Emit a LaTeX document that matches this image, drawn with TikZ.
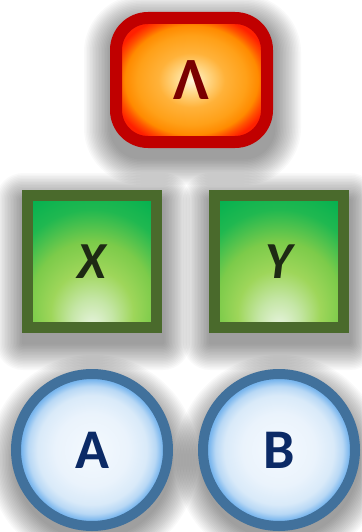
\documentclass[tikz,border=0pt]{standalone}
\usepackage{fontspec}
\setmainfont{Carlito}
\usetikzlibrary{positioning, backgrounds}
\definecolor{lamred}{HTML}{C00000}
\definecolor{lamink}{HTML}{7A0000}
\definecolor{leafolive}{HTML}{4A6A2C}
\definecolor{leafink}{HTML}{1E2A14}
\definecolor{dropsteel}{HTML}{41719C}
\definecolor{dropink}{HTML}{0B2A66}
% glow colours
\definecolor{lamA}{HTML}{FFF6DC}\definecolor{lamB}{HTML}{FFD98A}
\definecolor{lamC}{HTML}{FFB23A}\definecolor{lamD}{HTML}{FFA018}
\definecolor{lamE}{HTML}{FF8A00}\definecolor{lamF}{HTML}{FF5000}
\definecolor{lamG}{HTML}{FF2000}
\definecolor{leafA}{HTML}{E8F4E0}\definecolor{leafB}{HTML}{C5E6A6}
\definecolor{leafC}{HTML}{9ED65A}\definecolor{leafD}{HTML}{7CCB4A}
\definecolor{leafE}{HTML}{20B850}\definecolor{leafF}{HTML}{00B050}
\definecolor{leafG}{HTML}{1FA345}\definecolor{leafH}{HTML}{5A9A3C}
\definecolor{dropA}{HTML}{F4F9FE}\definecolor{dropB}{HTML}{EAF3FC}
\definecolor{dropC}{HTML}{D9EAF9}\definecolor{dropD}{HTML}{B8D8F5}
\definecolor{dropE}{HTML}{7DB8EE}\definecolor{dropF}{HTML}{5AA5EA}
\pgfdeclareradialshading{lamglow}{\pgfpoint{0bp}{0bp}}{%
  color(0bp)=(lamA); color(5bp)=(lamB); color(11bp)=(lamC);
  color(18bp)=(lamD); color(22bp)=(lamE); color(24.5bp)=(lamF);
  color(27bp)=(lamG); color(40bp)=(lamG)}
\pgfdeclareradialshading{leafglow}{\pgfpoint{0bp}{-25bp}}{%
  color(0bp)=(leafA); color(8bp)=(leafB); color(16bp)=(leafC);
  color(24bp)=(leafD); color(33bp)=(leafE); color(42bp)=(leafF);
  color(50bp)=(leafG); color(58bp)=(leafH); color(70bp)=(leafH)}
\pgfdeclareradialshading{dropglow}{\pgfpoint{0bp}{0bp}}{%
  color(0bp)=(dropA); color(12bp)=(dropB); color(18bp)=(dropC);
  color(21bp)=(dropD); color(23bp)=(dropE); color(25bp)=(dropF); color(40bp)=(dropF)}
\tikzset{
  haze/.style={fill=black, fill opacity=0.024},
  lambox/.style={
    draw=lamred, line width=12pt, rounded corners=32pt,
    minimum width=151pt, minimum height=124pt,
    shading=lamglow,
    font=\fontsize{60}{60}\selectfont\bfseries\color{lamink}
  },
  leafbox/.style={
    draw=leafolive, line width=11pt,
    minimum width=129pt, minimum height=132pt,
    shading=leafglow,
    font=\fontsize{52}{52}\selectfont\bfseries\itshape\color{leafink}
  },
  dropnode/.style={
    circle, draw=dropsteel, line width=10pt,
    minimum size=152pt, inner sep=0pt,
    shading=dropglow,
    font=\fontsize{56}{56}\selectfont\bfseries\color{dropink}
  }
}
\begin{document}
\begin{tikzpicture}[x=1pt, y=-1pt]
  \useasboundingbox (0,0) rectangle (361,532);

  % top
  \node[lambox] (lam) at (191.5,80) {Λ};

  % middle row
  \node[leafbox] (nx) at (92,261.5) {X};
  \node[leafbox, right=47pt of nx] (ny) {Y};

  % bottom row
  \node[dropnode] (na) at (92,450) {A};
  \node[dropnode, right=25pt of na] (nb) {B};

  % soft shadows
  \begin{scope}[on background layer]
    \fill[white] (0,0) rectangle (361,532);
    \foreach \s in {1.5,3,...,27} {
      \fill[haze, rounded corners={(30+\s)*1pt}]
        ([xshift={-\s pt+1pt}, yshift={-\s pt-10pt}]lam.south west)
        rectangle ([xshift={\s pt+1pt}, yshift={\s pt-10pt}]lam.north east);
      \foreach \n in {nx,ny}
        \fill[haze, rounded corners={\s pt}]
          ([xshift={-\s pt+1pt}, yshift={-\s pt-10pt}]\n.south west)
          rectangle ([xshift={\s pt+1pt}, yshift={\s pt-10pt}]\n.north east);
      \foreach \n in {na,nb}
        \fill[haze] ([xshift=1pt, yshift=-10pt]\n.center) circle[radius={(78+\s)*1pt}];
    }
  \end{scope}
\end{tikzpicture}
\end{document}
